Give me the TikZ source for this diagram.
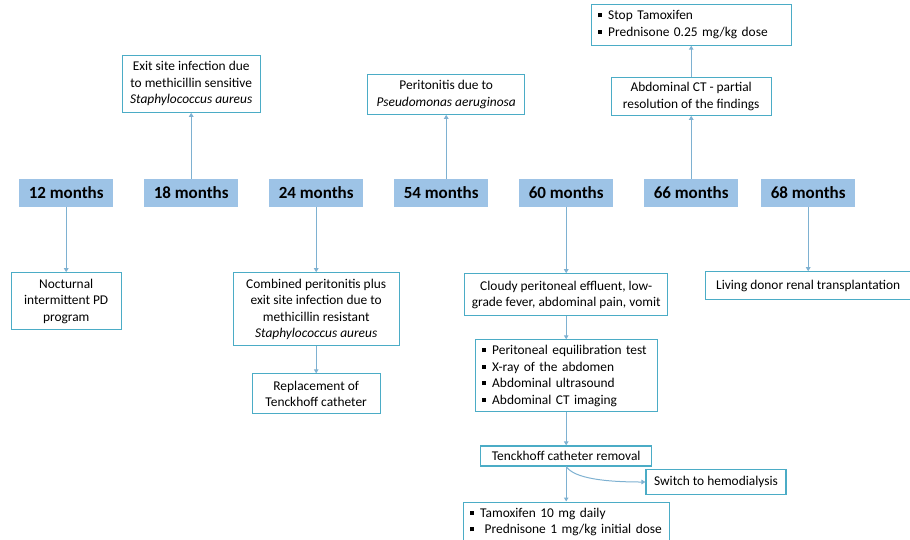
\documentclass[tikz,border=0pt]{standalone}
\usepackage{fontspec}
\setmainfont{Carlito}
\usetikzlibrary{matrix, arrows.meta, positioning}
\definecolor{monthfill}{HTML}{9DC3E6}
\definecolor{boxline}{HTML}{4BACC6}
\definecolor{arrline}{HTML}{7EB1D1}
\newcommand{\sqbul}{\rule[2.5pt]{4pt}{4pt}\hspace{6pt}}
\tikzset{
         monthbox/.style={fill=monthfill, minimum height=28pt, minimum width=94pt, inner sep=0pt, font=\fontsize{17}{20}\selectfont\bfseries},
         evbox/.style={draw=boxline, line width=1.1pt, align=center, inner xsep=4pt, inner ysep=4pt, font=\fontsize{13.4}{16.5}\selectfont},
         listbox/.style={evbox, align=left, inner xsep=7pt},
         link/.style={draw=arrline, line width=1pt, -{Triangle[length=4pt,width=4.5pt]}}
      }
\begin{document}
\begin{tikzpicture}[x=1pt, y=-1pt]
  \useasboundingbox (0,0) rectangle (910,539);
  % time line
  \matrix (months) [matrix of nodes, inner sep=0pt, anchor=west,
      column sep={125pt,between origins},
      nodes={monthbox}] at (19,193) {
    |(m12)| 12 months & |(m18)| 18 months & |(m24)| 24 months & |(m54)| 54 months &
    |(m60)| 60 months & |(m66)| 66 months &[-8pt] |(m68)| 68 months \\
  };

  % events above the time line
  \node[evbox, minimum width=138pt, minimum height=57pt, above=66pt of m18] (exit) {Exit site infection due\\to methicillin sensitive\\\textit{Staphylococcus aureus}};
  \node[evbox, minimum width=157pt, minimum height=40pt, above=64pt of m54, xshift=5pt] (perit) {Peritonitis due to\\\textit{Pseudomonas aeruginosa}};
  \node[evbox, minimum width=160pt, minimum height=38pt, above=63pt of m66] (ctscan) {Abdominal CT - partial\\resolution of the findings};
  \node[listbox, text width=186pt, minimum height=41pt, above=31pt of ctscan] (stop) {\sqbul Stop Tamoxifen\\\sqbul Prednisone 0.25 mg/kg dose};

  % events below the time line
  \node[evbox, minimum width=110pt, minimum height=57pt, below=65pt of m12] (noct) {Nocturnal\\intermittent PD\\program};
  \node[evbox, minimum width=166pt, minimum height=73pt, below=65pt of m24] (combo) {Combined peritonitis plus\\exit site infection due to\\methicillin resistant\\\textit{Staphylococcus aureus}};
  \node[evbox, minimum width=128pt, minimum height=40pt, below=27pt of combo] (replace) {Replacement of\\Tenckhoff catheter};
  \node[evbox, minimum width=203pt, minimum height=42pt, below=66pt of m60] (cloudy) {Cloudy peritoneal effluent, low-\\grade fever, abdominal pain, vomit};
  \node[listbox, text width=168pt, minimum height=72pt, below=23pt of cloudy] (tests) {\sqbul Peritoneal equilibration test\\\sqbul X-ray of the abdomen\\\sqbul Abdominal ultrasound\\\sqbul Abdominal CT imaging};
  \node[evbox, minimum width=171pt, minimum height=20pt, inner ysep=1pt, below=33pt of tests] (removal) {Tenckhoff catheter removal};
  \node[evbox, minimum width=140pt, minimum height=25pt, inner ysep=1pt] (switch) at (716,482) {Switch to hemodialysis};
  \node[listbox, text width=192pt, minimum height=40pt, below=35pt of removal] (tamox) {\sqbul Tamoxifen 10 mg daily\\\sqbul\ Prednisone 1 mg/kg initial dose};
  \node[evbox, minimum width=205pt, minimum height=28pt, inner ysep=1pt, below=64pt of m68] (living) {Living donor renal transplantation};

  % connectors
  \draw[link] (m18) -- (exit);
  \draw[link] (m54.north -| perit) -- (perit.south);
  \draw[link] (m66) -- (ctscan);
  \draw[link] (ctscan) -- (stop);
  \draw[link] (m12) -- (noct);
  \draw[link] (m24) -- (combo);
  \draw[link] (combo) -- (replace);
  \draw[link] (m60) -- (cloudy);
  \draw[link] (cloudy) -- (tests);
  \draw[link] (tests) -- (removal);
  \draw[link] (removal) -- (tamox);
  \draw[link] (removal.south) .. controls +(8,12) and +(-40,0) .. (switch.west);
  \draw[link] (m68) -- (living);
\end{tikzpicture}
\end{document}
